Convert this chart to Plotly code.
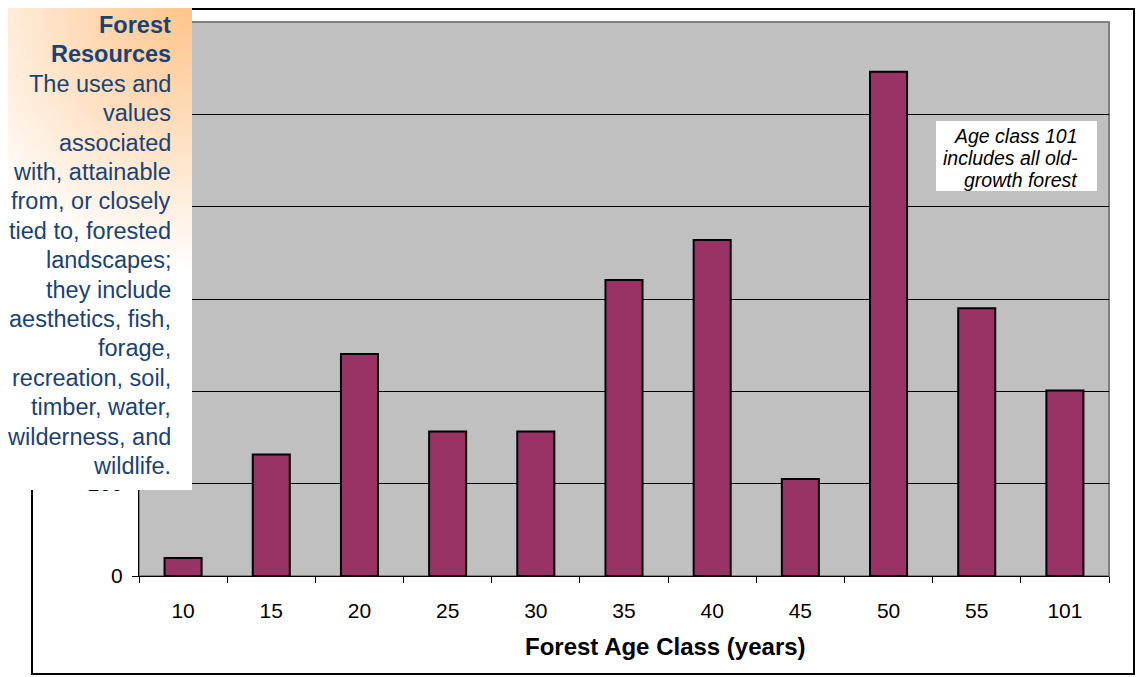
import base64
import plotly.graph_objects as go

categories = ["10", "15", "20", "25", "30", "35", "40", "45", "50", "55", "101"]
acres = [39, 263, 481, 313, 313, 641, 728, 210, 1092, 580, 402]
y_ticks = [0, 200, 400, 600, 800, 1000, 1200]

callout_title = ["Forest", "Resources"]
callout_body = ["The uses and", "values", "associated", "with, attainable",
                "from, or closely", "tied to, forested", "landscapes;",
                "they include", "aesthetics, fish,", "forage,",
                "recreation, soil,", "timber, water,", "wilderness, and",
                "wildlife."]
note_lines = ["Age class 101", "includes all old-", "growth forest"]
x_title = "Forest Age Class (years)"

OFF = 8  # page body margin
W, H = 1136 - OFF, 677 - OFF
L, T = 139 - OFF, 22 - OFF
R = W - (1109 - OFF)
B = H - (576 - OFF)
PW, PH = W - L - R, H - T - B

def px_x(px):  # page px -> paper
    return (px - OFF - L) / PW

def px_y(py):
    return (H - B - (py - OFF)) / PH

FONT = "Arial, Liberation Sans, sans-serif"

fig = go.Figure()
fig.add_trace(go.Bar(
    x=categories, y=acres,
    marker=dict(color="#993366", line=dict(color="#000000", width=2)),
    showlegend=False, hoverinfo="x+y",
))

# gradient callout box
bw, bh = 192 - OFF, 490 - OFF
svg = (f"<svg xmlns='http://www.w3.org/2000/svg' width='{bw}' height='{bh}' viewBox='0 0 {bw} {bh}' "
       "preserveAspectRatio='none'><defs><radialGradient id='g' cx='" + str(bw) + "' cy='0' r='310' "
       "gradientUnits='userSpaceOnUse'><stop offset='0' stop-color='#FFC48A'/>"
       "<stop offset='0.35' stop-color='#FFDBB8'/>"
       "<stop offset='0.85' stop-color='#FFFFFF'/><stop offset='1' stop-color='#FFFFFF'/></radialGradient></defs>"
       f"<rect width='{bw}' height='{bh}' fill='url(#g)'/></svg>")
src = "data:image/svg+xml;base64," + base64.b64encode(svg.encode()).decode()

fig.add_layout_image(dict(
    source=src, xref="paper", yref="paper",
    x=px_x(OFF), y=px_y(OFF), sizex=bw / PW, sizey=bh / PH,
    xanchor="left", yanchor="top", sizing="stretch", layer="above",
))

lines = [("<b>%s</b>" % s) for s in callout_title] + callout_body
for i, s in enumerate(lines):
    fig.add_annotation(
        xref="paper", yref="paper", x=px_x(173), y=px_y(25 + 29.4 * i),
        xanchor="right", yanchor="middle", align="right", showarrow=False,
        text=s, font=dict(family=FONT, size=23.5, color="#1A4373"),
    )

# note box
fig.add_shape(type="rect", xref="paper", yref="paper",
              x0=px_x(936), x1=px_x(1097), y0=px_y(191), y1=px_y(121),
              fillcolor="#FFFFFF", line=dict(width=0), layer="above")
for i, s in enumerate(note_lines):
    fig.add_annotation(
        xref="paper", yref="paper", x=px_x(1080), y=px_y(136 + 22 * i),
        xanchor="right", yanchor="middle", align="right", showarrow=False,
        text=s, font=dict(family=FONT, size=19.5, color="#000000", style="italic"),
    )

# x-axis title (offset to the right as in the original)
fig.add_annotation(
    xref="paper", yref="paper", x=px_x(665), y=px_y(646),
    xanchor="center", yanchor="middle", showarrow=False,
    text="<b>%s</b>" % x_title, font=dict(family=FONT, size=24, color="#000000"),
)

# outer chart border
fig.add_shape(type="rect", xref="paper", yref="paper",
              x0=px_x(32), x1=px_x(1134), y0=px_y(674), y1=px_y(OFF + 1),
              line=dict(color="#000000", width=2), layer="below")
# plot area border (top/right gray)
fig.add_shape(type="rect", xref="paper", yref="paper", x0=0, x1=1, y0=0, y1=1,
              line=dict(color="#808080", width=2), layer="below")

fig.update_layout(
    width=W, height=H,
    margin=dict(l=L, r=R, t=T, b=B, autoexpand=False),
    paper_bgcolor="#FFFFFF", plot_bgcolor="#C0C0C0",
    bargap=0.58,
    font=dict(family=FONT, color="#000000"),
)
fig.update_xaxes(
    type="category", showgrid=False, showline=True, linecolor="#000000", linewidth=1,
    ticks="outside", tickson="boundaries", ticklen=6, tickcolor="#000000",
    ticklabelstandoff=16, automargin=False, tickfont=dict(size=21),
)
fig.update_yaxes(
    range=[0, 1200], tickvals=y_ticks, showgrid=True, gridcolor="#000000", gridwidth=1,
    showline=True, linecolor="#000000", linewidth=1,
    ticks="outside", ticklen=6, tickcolor="#000000", tickfont=dict(size=21),
    ticklabelstandoff=5, zeroline=False, automargin=False,
)

fig.write_html("out.html")
